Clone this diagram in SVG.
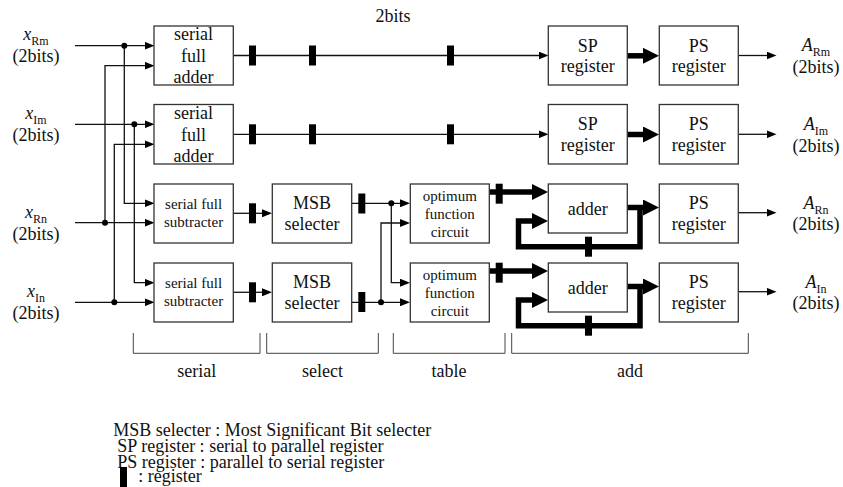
<svg xmlns="http://www.w3.org/2000/svg" width="843" height="487" viewBox="0 0 843 487" font-family="'Liberation Serif','DejaVu Serif',serif">
<style>
text{font-family:'Liberation Serif','DejaVu Serif',serif;font-size:18px;fill:#111}
.s{font-size:15px}
.m{text-anchor:middle}
.i{font-style:italic}
.box{fill:#fff;stroke:#333;stroke-width:1.3}
.w{fill:none;stroke:#111;stroke-width:1.3}
.t{fill:none;stroke:#000;stroke-width:5.5;stroke-linejoin:miter}
.reg{fill:#000}
.dot{fill:#000}
.br{fill:none;stroke:#444;stroke-width:1}
</style>
<defs>
<marker id="a" viewBox="0 0 10 8" markerWidth="10" markerHeight="8" refX="0.5" refY="4" markerUnits="userSpaceOnUse" orient="auto"><path d="M0,0L10,4L0,8z" fill="#000"/></marker>
<marker id="A" viewBox="0 0 16 16" markerWidth="16" markerHeight="16" refX="0.5" refY="8" markerUnits="userSpaceOnUse" orient="auto"><path d="M0,0L16,8L0,16z" fill="#000"/></marker>
</defs>

<text class="m" x="393" y="22">2bits</text>

<g id="inputs">
<text class="m" x="36" y="40"><tspan class="i">x</tspan><tspan font-size="12" dy="5">Rm</tspan></text>
<text class="m" x="36" y="61.5">(2bits)</text>
<text class="m" x="36" y="119"><tspan class="i">x</tspan><tspan font-size="12" dy="5">Im</tspan></text>
<text class="m" x="36" y="140.5">(2bits)</text>
<text class="m" x="36" y="218"><tspan class="i">x</tspan><tspan font-size="12" dy="5">Rn</tspan></text>
<text class="m" x="36" y="240">(2bits)</text>
<text class="m" x="36" y="297"><tspan class="i">x</tspan><tspan font-size="12" dy="5">In</tspan></text>
<text class="m" x="36" y="319">(2bits)</text>
</g>

<g id="outputs">
<text class="m" x="816" y="51"><tspan class="i">A</tspan><tspan font-size="12" dy="5">Rm</tspan></text>
<text class="m" x="816" y="72.5">(2bits)</text>
<text class="m" x="816" y="130"><tspan class="i">A</tspan><tspan font-size="12" dy="5">Im</tspan></text>
<text class="m" x="816" y="151.5">(2bits)</text>
<text class="m" x="816" y="208.5"><tspan class="i">A</tspan><tspan font-size="12" dy="5">Rn</tspan></text>
<text class="m" x="816" y="230">(2bits)</text>
<text class="m" x="816" y="287.5"><tspan class="i">A</tspan><tspan font-size="12" dy="5">In</tspan></text>
<text class="m" x="816" y="309">(2bits)</text>
</g>

<g id="connectors">
<path class="w" d="M75 45.7H145" marker-end="url(#a)"/>
<path class="w" d="M124.3 45.7V203.3H145" marker-end="url(#a)"/>
<path class="w" d="M105 222.7V65.7H145" marker-end="url(#a)"/>
<path class="w" d="M75 124.3H145" marker-end="url(#a)"/>
<path class="w" d="M134.3 124.3V282.7H145" marker-end="url(#a)"/>
<path class="w" d="M114.3 302.3V144.3H145" marker-end="url(#a)"/>
<path class="w" d="M75 222.7H145" marker-end="url(#a)"/>
<path class="w" d="M75 302.3H145" marker-end="url(#a)"/>
<circle class="dot" cx="124.3" cy="45.7" r="3"/>
<circle class="dot" cx="134.3" cy="124.3" r="3"/>
<circle class="dot" cx="105" cy="222.7" r="3"/>
<circle class="dot" cx="114.3" cy="302.3" r="3"/>

<path class="w" d="M233.3 55.5H539" marker-end="url(#a)"/>
<path class="w" d="M233.3 134.3H539" marker-end="url(#a)"/>
<path class="t" d="M627.3 55.8H643.5" marker-end="url(#A)"/>
<path class="t" d="M627.3 134.5H643.5" marker-end="url(#A)"/>
<path class="w" d="M738.3 55.5H767" marker-end="url(#a)"/>
<path class="w" d="M738.3 134.3H767" marker-end="url(#a)"/>
<path class="w" d="M738.3 212.7H767" marker-end="url(#a)"/>
<path class="w" d="M738.3 291.7H767" marker-end="url(#a)"/>

<path class="w" d="M233.3 213.3H262.5" marker-end="url(#a)"/>
<path class="w" d="M233.3 292.3H262.5" marker-end="url(#a)"/>
<path class="w" d="M351.7 203.3H400.5" marker-end="url(#a)"/>
<path class="w" d="M391.3 203.3V282.7H400.5" marker-end="url(#a)"/>
<path class="w" d="M351.7 302.3H400.5" marker-end="url(#a)"/>
<path class="w" d="M381 302.3V223H400.5" marker-end="url(#a)"/>
<circle class="dot" cx="391.3" cy="203.3" r="3"/>
<circle class="dot" cx="381" cy="302.3" r="3"/>

<path class="t" d="M489.3 192H532.5" marker-end="url(#A)"/>
<path class="t" d="M489.3 271H532.5" marker-end="url(#A)"/>
<path class="t" d="M627.3 207.5H643.5" marker-end="url(#A)"/>
<path class="t" d="M640 207.5V246.7H518.5V221H532.5" marker-end="url(#A)"/>
<path class="t" d="M627.3 286.5H643.5" marker-end="url(#A)"/>
<path class="t" d="M640 286.5V325.7H518.5V300H532.5" marker-end="url(#A)"/>

<rect class="reg" x="249" y="45.5" width="7" height="20"/>
<rect class="reg" x="309" y="45.5" width="7" height="20"/>
<rect class="reg" x="447" y="45.5" width="7" height="20"/>
<rect class="reg" x="249" y="124.3" width="7" height="20"/>
<rect class="reg" x="309" y="124.3" width="7" height="20"/>
<rect class="reg" x="447" y="124.3" width="7" height="20"/>
<rect class="reg" x="249" y="203.3" width="7" height="20"/>
<rect class="reg" x="358.3" y="193.5" width="7" height="20"/>
<rect class="reg" x="495.7" y="183.7" width="7" height="20"/>
<rect class="reg" x="585" y="236.7" width="7" height="20"/>
<rect class="reg" x="249" y="282.3" width="7" height="20"/>
<rect class="reg" x="358.3" y="292" width="7" height="20"/>
<rect class="reg" x="495.7" y="262.7" width="7" height="20"/>
<rect class="reg" x="585" y="315.7" width="7" height="20"/>
</g>

<g id="sfa1"><rect class="box" x="154" y="26" width="79.3" height="59"/>
<text class="m" x="193.6" y="40">serial</text><text class="m" x="193.6" y="61.5">full</text><text class="m" x="193.6" y="83">adder</text></g>
<g id="sfa2"><rect class="box" x="154" y="104.5" width="79.3" height="59.5"/>
<text class="m" x="193.6" y="119">serial</text><text class="m" x="193.6" y="140.5">full</text><text class="m" x="193.6" y="162">adder</text></g>
<g id="sfs1"><rect class="box" x="154" y="184" width="79.3" height="59"/>
<text class="m s" x="193.6" y="208.5">serial full</text><text class="m s" x="193.6" y="226.5">subtracter</text></g>
<g id="sfs2"><rect class="box" x="154" y="263" width="79.3" height="59"/>
<text class="m s" x="193.6" y="287.5">serial full</text><text class="m s" x="193.6" y="305.5">subtracter</text></g>

<g id="msb1"><rect class="box" x="272.3" y="184" width="79.4" height="59"/>
<text class="m" x="312" y="208.5">MSB</text><text class="m" x="312" y="229.5">selecter</text></g>
<g id="msb2"><rect class="box" x="272.3" y="263" width="79.4" height="59"/>
<text class="m" x="312" y="287.5">MSB</text><text class="m" x="312" y="308.5">selecter</text></g>

<g id="opt1"><rect class="box" x="410.3" y="184" width="79" height="59"/>
<text class="m s" x="449.8" y="200.5">optimum</text><text class="m s" x="449.8" y="218.5">function</text><text class="m s" x="449.8" y="236.5">circuit</text></g>
<g id="opt2"><rect class="box" x="410.3" y="263" width="79" height="59"/>
<text class="m s" x="449.8" y="279.5">optimum</text><text class="m s" x="449.8" y="297.5">function</text><text class="m s" x="449.8" y="315.5">circuit</text></g>

<g id="sp1"><rect class="box" x="548.3" y="26" width="79" height="59"/>
<text class="m" x="587.8" y="51.5">SP</text><text class="m" x="587.8" y="72">register</text></g>
<g id="sp2"><rect class="box" x="548.3" y="104.5" width="79" height="59.5"/>
<text class="m" x="587.8" y="130">SP</text><text class="m" x="587.8" y="150.5">register</text></g>
<g id="adder1"><rect class="box" x="548.3" y="184" width="79" height="49"/>
<text class="m" x="587.8" y="215">adder</text></g>
<g id="adder2"><rect class="box" x="548.3" y="263" width="79" height="49"/>
<text class="m" x="587.8" y="294">adder</text></g>

<g id="ps1"><rect class="box" x="659.3" y="26" width="79" height="59"/>
<text class="m" x="698.8" y="51.5">PS</text><text class="m" x="698.8" y="72">register</text></g>
<g id="ps2"><rect class="box" x="659.3" y="104.5" width="79" height="59.5"/>
<text class="m" x="698.8" y="130">PS</text><text class="m" x="698.8" y="150.5">register</text></g>
<g id="ps3"><rect class="box" x="659.3" y="184" width="79" height="59"/>
<text class="m" x="698.8" y="209">PS</text><text class="m" x="698.8" y="229.5">register</text></g>
<g id="ps4"><rect class="box" x="659.3" y="263" width="79" height="59"/>
<text class="m" x="698.8" y="288">PS</text><text class="m" x="698.8" y="308.5">register</text></g>

<g id="stages">
<path class="br" d="M133.3 333V353.3H260V333"/>
<path class="br" d="M266.7 333V353.3H378.3V333"/>
<path class="br" d="M393.3 333V353.3H505V333"/>
<path class="br" d="M511.7 333V353.3H748.3V333"/>
<text class="m" x="196.7" y="377">serial</text>
<text class="m" x="322.5" y="377">select</text>
<text class="m" x="449" y="377">table</text>
<text class="m" x="630" y="377">add</text>
</g>

<g id="legend">
<text x="113.3" y="436">MSB selecter : Most Significant Bit selecter</text>
<text x="117.3" y="452">SP register : serial to parallel register</text>
<text x="117.3" y="468">PS register : parallel to serial register</text>
<rect class="reg" x="120" y="467" width="7" height="20"/>
<text x="138.3" y="482">: register</text>
</g>
</svg>
